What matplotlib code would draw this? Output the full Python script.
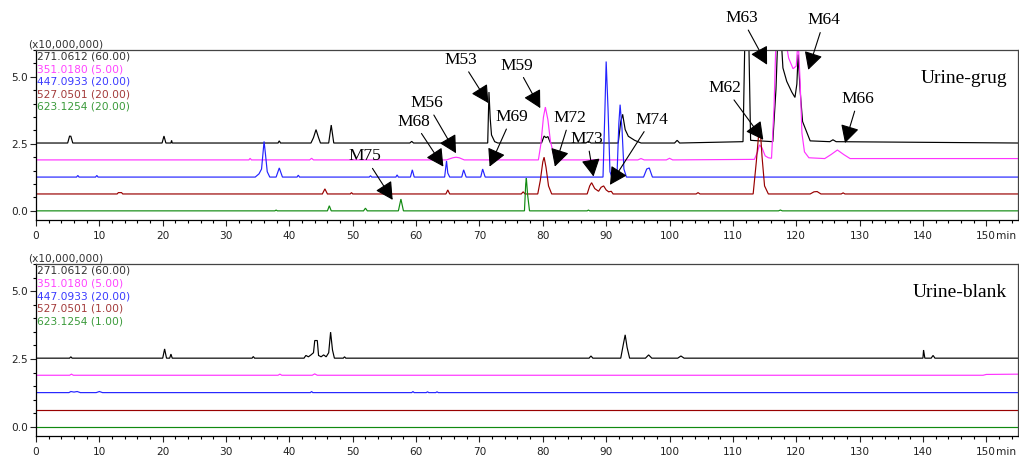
import matplotlib
matplotlib.use("Agg")
import matplotlib.pyplot as plt
from matplotlib.ticker import MultipleLocator, FixedLocator
from matplotlib.transforms import blended_transform_factory

# ---- data (intensity above each trace baseline, x10,000,000; time in min) ----
trace_names = ["271.0612", "351.0180", "447.0933", "527.0501", "623.1254"]
gains_drug = ["60.00", "5.00", "20.00", "20.00", "20.00"]
gains_blank = ["60.00", "5.00", "20.00", "1.00", "1.00"]
trace_colors = ["#000000", "#ff33ff", "#2323ff", "#990000", "#108a10"]
text_colors = ["#333333", "#ff44ff", "#3b3bff", "#a33a3a", "#3a9a3a"]
baselines = [2.53, 1.90, 1.26, 0.63, 0.0]

# Urine-drug
drug_black_t = [0, 5.0, 5.3, 5.5, 5.8, 19.9, 20.2, 20.5, 21.3, 21.4, 21.5, 38.2, 38.4, 38.6,
                43.4, 43.8, 44.2, 44.6, 44.9, 46.2, 46.6, 47.0, 59.0, 59.3, 59.6,
                71.3, 71.5, 71.7, 71.9, 72.4, 72.9, 79.8, 80.2, 80.5, 80.8, 81.2, 86.8, 87.2, 87.6,
                91.9, 92.3, 92.6, 93.0, 93.5, 94.5, 95.5, 100.8, 101.2, 101.6,
                111.6, 111.9, 112.5, 112.8, 116.3, 116.8, 117.1, 117.6, 117.9, 118.5, 119.3,
                119.8, 120.1, 120.3, 120.6, 121.0, 121.5, 122.2, 125.3, 125.8, 126.3, 155]
drug_black_v = [0, 0, 0.26, 0.25, 0, 0, 0.26, 0, 0, 0.1, 0, 0, 0.08, 0,
                0, 0.2, 0.5, 0.2, 0, 0, 0.67, 0, 0, 0.06, 0,
                0, 1.9, 0.9, 0.3, 0.05, 0, 0, 0.26, 0.2, 0.24, 0, 0, 0.06, 0,
                0, 0.8, 1.07, 0.5, 0.25, 0.1, 0, 0, 0.1, 0,
                0.05, 4.0, 4.0, 0.1, 0.05, 2.0, 4.0, 4.0, 2.8, 2.3, 1.9,
                1.7, 2.2, 3.3, 2.0, 0.8, 0.5, 0.08, 0.05, 0.12, 0.05, 0]
drug_magenta_t = [0, 33.6, 33.8, 34.0, 43.2, 43.5, 43.8, 64.8, 65.8, 66.3, 66.8, 67.6,
                  79.3, 79.7, 80.1, 80.4, 80.8, 81.2, 81.7, 82.3, 95.0, 95.5, 96.0, 99.5, 100.0,
                  100.5, 113.4, 113.9, 114.2, 114.6, 115.1, 115.6, 116.1, 116.5, 116.8, 118.3,
                  118.8, 119.5, 120.0, 120.3, 120.6, 120.9, 121.3, 122.0, 124.5, 125.5, 126.5,
                  127.5, 128.5, 155]
drug_magenta_v = [0, 0, 0.06, 0, 0, 0.06, 0, 0, 0.08, 0.1, 0.08, 0,
                  0, 0.6, 1.6, 1.97, 1.5, 0.7, 0.2, 0, 0, 0.05, 0, 0, 0.06,
                  0, 0.02, 0.3, 0.56, 0.45, 0.15, 0.08, 0.06, 2.0, 4.5, 4.5,
                  3.8, 3.4, 3.5, 4.5, 3.0, 1.0, 0.3, 0.08, 0.05, 0.2, 0.37,
                  0.2, 0.05, 0.05]
drug_blue_t = [0, 6.4, 6.6, 6.8, 9.4, 9.6, 9.8, 34.6, 35.2, 35.6, 36.0, 36.2, 36.5, 36.9,
               37.9, 38.4, 38.9, 41.2, 41.4, 41.6, 52.6, 52.8, 53.0, 56.8, 57.0, 57.2,
               59.1, 59.4, 59.7, 64.5, 64.8, 65.0, 65.3, 67.2, 67.5, 67.9, 70.2, 70.5, 70.9,
               89.5, 89.8, 90.0, 90.3, 90.6, 90.9, 91.7, 92.0, 92.2, 92.5, 92.8, 93.2,
               95.9, 96.4, 96.8, 97.3, 155]
drug_blue_v = [0, 0, 0.06, 0, 0, 0.06, 0, 0, 0.12, 0.3, 1.33, 0.9, 0.2, 0,
               0, 0.34, 0, 0, 0.07, 0, 0, 0.05, 0, 0, 0.08, 0,
               0, 0.27, 0, 0, 0.6, 0.15, 0, 0, 0.27, 0, 0, 0.3, 0,
               0, 2.5, 4.31, 2.5, 0.2, 0, 0, 2.0, 2.7, 1.8, 0.3, 0,
               0, 0.3, 0.34, 0, 0]
drug_red_t = [0, 12.8, 13.0, 13.5, 13.7, 45.2, 45.6, 46.0, 49.6, 49.8, 50.0, 64.7, 65.0, 65.3,
              76.6, 76.9, 77.2, 79.2, 79.6, 80.0, 80.2, 80.5, 80.9, 81.4, 87.0, 87.4, 87.7,
              88.2, 88.8, 89.2, 89.6, 90.0, 90.4, 90.8, 91.1, 104.2, 104.5, 104.8,
              113.2, 113.7, 114.1, 114.3, 114.6, 115.0, 115.6, 122.2, 122.8, 123.3, 123.9,
              127.1, 127.4, 127.7, 155]
drug_red_v = [0, 0, 0.05, 0.05, 0, 0, 0.19, 0, 0, 0.05, 0, 0, 0.15, 0,
              0, 0.08, 0, 0, 0.5, 1.2, 1.37, 1.0, 0.3, 0, 0, 0.3, 0.42,
              0.2, 0.1, 0.25, 0.3, 0.15, 0.08, 0.1, 0, 0, 0.05, 0,
              0, 1.2, 2.3, 2.49, 1.4, 0.3, 0, 0, 0.08, 0.09, 0,
              0, 0.04, 0, 0]
drug_green_t = [0, 37.7, 37.9, 38.1, 46.0, 46.3, 46.6, 51.7, 52.0, 52.3, 57.2, 57.6, 58.0,
                77.1, 77.3, 77.4, 77.6, 77.9, 87.0, 87.2, 87.4, 117.2, 117.5, 117.8, 155]
drug_green_v = [0, 0, 0.03, 0, 0, 0.19, 0, 0, 0.1, 0, 0, 0.44, 0,
                0, 1.0, 1.22, 0.6, 0, 0, 0.03, 0, 0, 0.03, 0, 0]

# Urine-blank
blank_black_t = [0, 5.3, 5.5, 5.7, 20.0, 20.3, 20.6, 21.1, 21.3, 21.5, 34.1, 34.3, 34.5,
                 42.3, 42.6, 43.0, 43.4, 43.8, 44.0, 44.4, 44.6, 45.0, 45.4, 45.8, 46.2, 46.5,
                 46.8, 47.1, 48.5, 48.7, 48.9, 87.3, 87.6, 87.9, 92.3, 92.7, 93.0, 93.3, 93.7,
                 96.2, 96.7, 97.2, 101.3, 101.8, 102.3, 140.0, 140.1, 140.3, 141.3, 141.6,
                 141.9, 155]
blank_black_v = [0, 0, 0.05, 0, 0, 0.34, 0, 0, 0.15, 0, 0, 0.06, 0,
                 0, 0.1, 0.05, 0.12, 0.2, 0.65, 0.65, 0.1, 0.05, 0.12, 0.05, 0.2, 0.96,
                 0.3, 0, 0, 0.05, 0, 0, 0.08, 0, 0, 0.5, 0.86, 0.4, 0,
                 0, 0.12, 0, 0, 0.08, 0, 0, 0.3, 0, 0, 0.1, 0, 0]
blank_magenta_t = [0, 5.3, 5.6, 5.9, 38.2, 38.5, 38.8, 43.6, 44.0, 44.4, 149.5, 150.0, 155]
blank_magenta_v = [0, 0, 0.04, 0, 0, 0.04, 0, 0, 0.05, 0, 0, 0.03, 0.04]
blank_blue_t = [0, 5.2, 5.5, 6.0, 6.5, 7.0, 9.5, 10.0, 10.5, 43.3, 43.5, 43.7,
                59.3, 59.5, 59.7, 61.6, 61.8, 62.0, 63.1, 63.3, 63.5, 155]
blank_blue_v = [0, 0, 0.04, 0.02, 0.04, 0, 0, 0.04, 0, 0, 0.04, 0,
                0, 0.04, 0, 0, 0.03, 0, 0, 0.03, 0, 0]
blank_red_t = [0, 155]
blank_red_v = [0, 0]
blank_green_t = [0, 155]
blank_green_v = [0, 0]

drug_traces = [(drug_black_t, drug_black_v), (drug_magenta_t, drug_magenta_v),
               (drug_blue_t, drug_blue_v), (drug_red_t, drug_red_v),
               (drug_green_t, drug_green_v)]
blank_traces = [(blank_black_t, blank_black_v), (blank_magenta_t, blank_magenta_v),
                (blank_blue_t, blank_blue_v), (blank_red_t, blank_red_v),
                (blank_green_t, blank_green_v)]

# metabolite labels: name, arrow tip (min, value), text (min, value)
labels = [("M53", (71.4, 4.02), (67.1, 5.63)),
          ("M59", (79.6, 3.83), (75.9, 5.42)),
          ("M56", (66.3, 2.15), (61.7, 4.02)),
          ("M68", (64.3, 1.65), (59.6, 3.33)),
          ("M69", (71.6, 1.65), (75.1, 3.50)),
          ("M72", (81.9, 1.65), (84.3, 3.46)),
          ("M73", (88.0, 1.28), (87.0, 2.68)),
          ("M74", (90.6, 0.97), (97.2, 3.40)),
          ("M75", (56.3, 0.41), (51.9, 2.03)),
          ("M63", (115.4, 5.45), (111.4, 7.19)),
          ("M64", (121.9, 5.26), (124.4, 7.10)),
          ("M62", (114.8, 2.65), (108.8, 4.58)),
          ("M66", (127.7, 2.53), (129.8, 4.17))]

plt.rcParams['font.family'] = ['DejaVu Sans']

fig = plt.figure(figsize=(10.2, 4.58), dpi=100)
ax1 = fig.add_axes([0.0353, 0.5197, 0.9627, 0.3712])
ax2 = fig.add_axes([0.0353, 0.048, 0.9627, 0.3755])


def draw_panel(ax, traces, gains, title):
    for (t, v), base, col in zip(traces, baselines, trace_colors):
        ax.plot(t, [base + x for x in v], color=col, lw=0.85, solid_joinstyle='miter')
    ax.set_xlim(0, 155)
    ax.set_ylim(-0.34, 6.0)
    ax.xaxis.set_major_locator(FixedLocator(list(range(0, 151, 10))))
    ax.xaxis.set_minor_locator(MultipleLocator(2))
    ax.yaxis.set_major_locator(FixedLocator([0.0, 2.5, 5.0]))
    ax.yaxis.set_minor_locator(MultipleLocator(0.5))
    ax.set_yticklabels(["0.0", "2.5", "5.0"])
    ax.tick_params(which='major', length=4.5, width=0.8, labelsize=7.6, pad=3.5, colors='#222222')
    ax.tick_params(which='minor', length=2.5, width=0.8)
    ax.tick_params(axis='y', which='major', pad=1.5)
    for s in ['top', 'right']:
        ax.spines[s].set_color('#444444')
    for s in ax.spines.values():
        s.set_linewidth(0.9)
    tr = blended_transform_factory(ax.transData, ax.transAxes)
    ax.annotate("min", xy=(151.5, 0), xycoords=tr, xytext=(0, -8),
                textcoords='offset points', ha='left', va='top', fontsize=7.6,
                color='#222222', annotation_clip=False)
    ax.text(-0.008, 1.005, "(x10,000,000)", transform=ax.transAxes, fontsize=7.6,
            color='#333333', ha='left', va='bottom')
    for i, (name, g, tc) in enumerate(zip(trace_names, gains, text_colors)):
        ax.text(0.001, 0.96 - i * 0.0735, f"{name} ({g})", transform=ax.transAxes,
                fontsize=7.7, color=tc, ha='left', va='center')
    ax.text(0.989, 0.835, title, transform=ax.transAxes, fontsize=14,
            family='Liberation Serif', ha='right', va='center')


draw_panel(ax1, drug_traces, gains_drug, "Urine-grug")
draw_panel(ax2, blank_traces, gains_blank, "Urine-blank")

for name, tip, txt in labels:
    ax1.annotate(name, xy=tip, xytext=txt, fontsize=12.5, family='Liberation Serif',
                 ha='center', va='center', annotation_clip=False,
                 arrowprops=dict(arrowstyle='-|>,head_length=0.45,head_width=0.24',
                                 color='black', lw=0.8, mutation_scale=24,
                                 shrinkA=1, shrinkB=0))

fig.savefig("out.png", dpi=100)
